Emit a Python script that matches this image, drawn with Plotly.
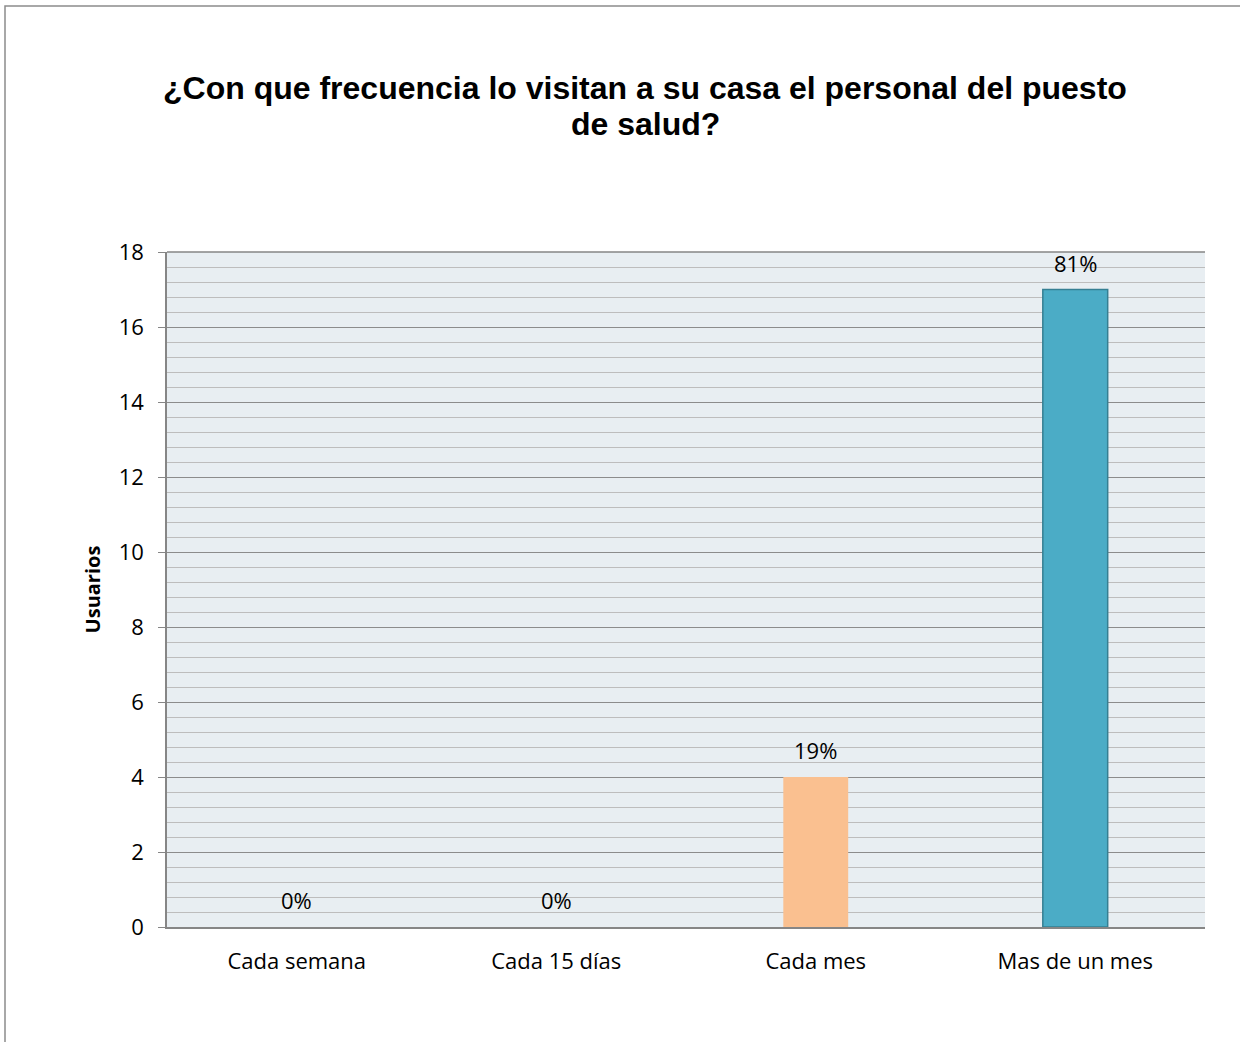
import plotly.graph_objects as go

# Survey responses: how often health post staff visit the household
categorias = ["Cada semana", "Cada 15 días", "Cada mes", "Mas de un mes"]
usuarios = [0, 0, 4, 17]
porcentajes = ["0%", "0%", "19%", "81%"]
colores = ["#FAC090", "#FAC090", "#FAC090", "#4BACC6"]
bordes = ["rgba(0,0,0,0)", "rgba(0,0,0,0)", "rgba(0,0,0,0)", "#357F93"]
titulo = ["¿Con que frecuencia lo visitan a su casa el personal del puesto", "de salud?"]

W, H = 1240, 1042
ML, MR, MT, MB = 167, 35, 252, 115
PW, PH = W - ML - MR, H - MT - MB
FONT = "Open Sans"


def px_x(x):
    return (x - ML) / PW


def px_y(y):
    return (MT + PH - y) / PH


fig = go.Figure(
    go.Bar(
        x=categorias,
        y=usuarios,
        marker=dict(color=colores, line=dict(color=bordes, width=1.5)),
        width=0.25,
        hoverinfo="x+y",
    )
)

# percentage labels above each bar
for cat, val, pct in zip(categorias, usuarios, porcentajes):
    fig.add_annotation(
        x=cat,
        y=val,
        text=pct,
        showarrow=False,
        yanchor="bottom",
        yshift=10,
        font=dict(family=FONT, size=22, color="#000000"),
    )

# two-line chart title
for linea, yc in zip(titulo, [88, 124]):
    fig.add_annotation(
        xref="paper",
        yref="paper",
        x=px_x(645),
        y=px_y(yc),
        xanchor="center",
        yanchor="middle",
        text=f"<b>{linea}</b>",
        showarrow=False,
        font=dict(family="Liberation Sans", size=32, color="#000000"),
    )

fig.update_layout(
    width=W,
    height=H,
    margin=dict(l=ML, r=MR, t=MT, b=MB),
    paper_bgcolor="#FFFFFF",
    plot_bgcolor="#E8EEF2",
    showlegend=False,
    bargap=0.75,
    font=dict(family=FONT, size=22, color="#000000"),
    xaxis=dict(
        showgrid=False,
        showline=True,
        linecolor="#868686",
        linewidth=1.5,
        ticks="",
        tickfont=dict(family=FONT, size=22),
        ticklabelstandoff=14,
    ),
    yaxis=dict(
        range=[0, 18],
        dtick=2,
        tick0=0,
        showline=True,
        linecolor="#868686",
        linewidth=1.5,
        ticks="outside",
        ticklen=7,
        tickcolor="#868686",
        gridcolor="#8C8C8C",
        gridwidth=1,
        zeroline=False,
        tickfont=dict(family=FONT, size=22),
        ticklabelstandoff=10,
        minor=dict(dtick=0.4, showgrid=True, gridcolor="#BDBDBD", gridwidth=1, ticks=""),
        title=dict(
            text="<b>Usuarios</b>",
            font=dict(family=FONT, size=20),
            standoff=13,
        ),
    ),
    shapes=[
        # outer chart frame
        dict(
            type="rect",
            xref="paper",
            yref="paper",
            x0=px_x(5),
            x1=px_x(W + 5),
            y0=px_y(H + 5),
            y1=px_y(6),
            line=dict(color="#8C8C8C", width=1.5),
            fillcolor="rgba(0,0,0,0)",
            layer="below",
        ),
        # top edge of the plot area
        dict(
            type="line",
            xref="paper",
            yref="paper",
            x0=0,
            x1=1,
            y0=1,
            y1=1,
            line=dict(color="#868686", width=1.5),
        ),
    ],
)

fig.write_html("out.html")
